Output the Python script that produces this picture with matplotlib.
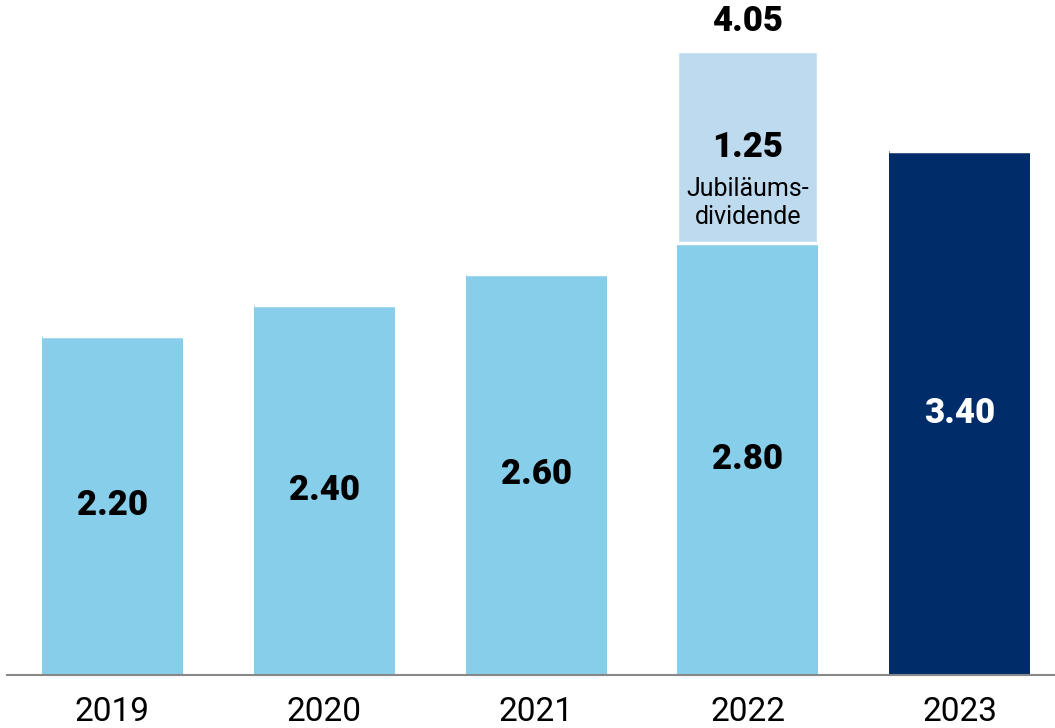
import numpy as np
import matplotlib.pyplot as plt

plt.rcParams['font.family'] = ['Roboto', 'DejaVu Sans']

years = ["2019", "2020", "2021", "2022", "2023"]
dividend = [2.20, 2.40, 2.60, 2.80, 3.40]
bonus = [0, 0, 0, 1.25, 0]  # Jubiläumsdividende 2022
bonus_note = "Jubiläums-\ndividende"

light = "#87CEEA"
pale = "#BDDAEF"
dark = "#002D6A"
bar_colors = [light, light, light, light, dark]
label_colors = ["black", "black", "black", "black", "white"]

fig = plt.figure(figsize=(10.55, 7.28), dpi=100)
ax = fig.add_axes([7 / 1055, 53 / 728, 1048 / 1055, 675 / 728])

x = np.arange(len(years))
width = 0.665
ax.bar(x, dividend, width, color=bar_colors)
ax.bar(x, bonus, width, bottom=dividend, color=pale, edgecolor="white", linewidth=2.5)

for xi, v, c in zip(x, dividend, label_colors):
    ax.text(xi, v / 2, f"{v:.2f}", ha="center", va="center", fontsize=25,
            fontweight="heavy", color=c)

for xi, v, b in zip(x, dividend, bonus):
    if b > 0:
        ax.text(xi, v + b / 2, f"{b:.2f}", ha="center", va="center",
                fontsize=25, fontweight="heavy")
        ax.text(xi, v + b / 2 - 0.36, bonus_note, ha="center", va="center",
                fontsize=18, linespacing=1.2)
        ax.text(xi, v + b + 0.19, f"{v + b:.2f}", ha="center", va="center",
                fontsize=25, fontweight="heavy")

ax.set_xlim(-0.498, 4.45)
ax.set_ylim(0, 4.38)
ax.set_xticks(x)
ax.set_xticklabels(years, fontsize=24)
ax.tick_params(axis="x", length=0, pad=15)
ax.set_yticks([])
for s in ["top", "right", "left"]:
    ax.spines[s].set_visible(False)
ax.spines["bottom"].set_color("#888888")
ax.spines["bottom"].set_linewidth(1.5)

fig.savefig("out.png", dpi=100)
